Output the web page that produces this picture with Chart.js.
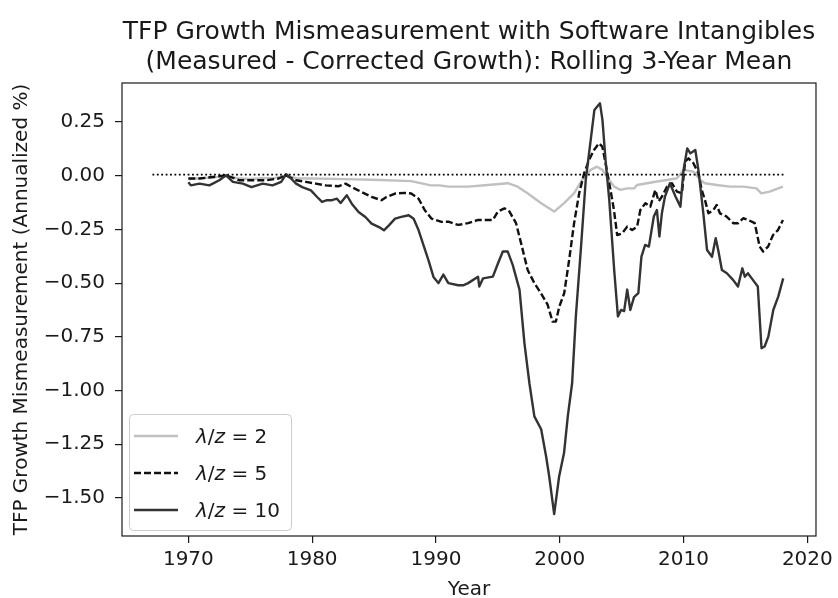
<!DOCTYPE html>
<html>
<head>
<meta charset="utf-8">
<script src="https://cdn.jsdelivr.net/npm/chart.js@4.4.0/dist/chart.umd.min.js"></script>
<style>
html, body { margin: 0; padding: 0; background: #fff; }
#wrap { width: 838px; height: 598px; }
</style>
</head>
<body>
<div id="wrap"><canvas id="chart" width="838" height="598"></canvas></div>
<script>
const xTicks = [1970, 1980, 1990, 2000, 2010, 2020];
const yTicks = [0.25, 0, -0.25, -0.5, -0.75, -1, -1.25, -1.5];
const legendLabels = ['2', '5', '10'];

// lambda/z = 2 (light gray)
const yearsLow = [1970.0, 1971.0, 1972.0, 1973.0, 1974.0, 1975.0, 1976.0, 1977.0, 1977.9, 1978.7,
  1980.0, 1982.7, 1985.5, 1988.0, 1989.6, 1990.3, 1991.0, 1992.6, 1994.2, 1995.8,
  1996.6, 1997.4, 1998.5, 1999.55, 2000.35, 2001.15, 2001.8, 2002.5, 2003.0, 2003.45,
  2004.0, 2004.4, 2004.9, 2005.45, 2006.0, 2006.25, 2007.05, 2007.86, 2008.66, 2009.47,
  2010.0, 2010.8, 2011.35, 2011.73, 2012.68, 2013.75, 2014.82, 2015.89, 2016.29, 2016.96, 2018.03];
const valsLow = [-0.015, -0.012, -0.008, -0.002, -0.012, -0.015, -0.012, -0.010, 0.000, -0.012,
  -0.013, -0.016, -0.020, -0.025, -0.045, -0.045, -0.051, -0.051, -0.043, -0.035,
  -0.051, -0.082, -0.128, -0.167, -0.128, -0.082, -0.020, 0.027, 0.042, 0.027,
  -0.020, -0.051, -0.066, -0.059, -0.059, -0.043, -0.035, -0.027, -0.020, -0.012,
  0.027, 0.019, -0.020, -0.035, -0.043, -0.051, -0.051, -0.059, -0.082, -0.074, -0.051];

// lambda/z = 5 (dashed)
const yearsMid = [1970.0, 1970.9, 1972.0, 1973.05, 1974.1, 1975.2, 1976.3, 1977.3, 1977.87, 1978.7,
  1979.5, 1980.3, 1981.1, 1982.15, 1982.7, 1983.2, 1984.0, 1984.8, 1985.6, 1986.0,
  1986.7, 1987.5, 1988.0, 1988.6, 1989.1, 1989.65, 1990.45, 1991.0, 1991.8, 1992.6,
  1993.4, 1994.2, 1994.6, 1995.0, 1995.54, 1995.94, 1996.47, 1996.88, 1997.41, 1997.95,
  1998.48, 1999.02, 1999.42, 1999.69, 1999.96, 2000.36, 2000.76, 2001.16, 2001.57, 2001.97,
  2002.37, 2002.77, 2003.17, 2003.44, 2003.7, 2004.1, 2004.38, 2004.64, 2005.05, 2005.45,
  2005.85, 2006.25, 2006.51, 2006.92, 2007.32, 2007.72, 2007.99, 2008.26, 2008.66, 2009.06,
  2009.47, 2009.87, 2010.13, 2010.4, 2010.8, 2011.2, 2011.47, 2011.73, 2012.01, 2012.41,
  2012.68, 2012.94, 2013.48, 2014.02, 2014.42, 2014.82, 2015.22, 2015.75, 2016.15, 2016.43,
  2016.83, 2017.23, 2017.63, 2018.03];
const valsMid = [-0.013, -0.013, -0.006, 0.002, -0.021, -0.021, -0.021, -0.013, 0.002, -0.021,
  -0.029, -0.037, -0.045, -0.049, -0.037, -0.053, -0.076, -0.099, -0.114, -0.099,
  -0.083, -0.080, -0.083, -0.107, -0.161, -0.200, -0.215, -0.214, -0.229, -0.221,
  -0.206, -0.206, -0.206, -0.167, -0.152, -0.167, -0.221, -0.315, -0.439, -0.500,
  -0.547, -0.600, -0.679, -0.679, -0.610, -0.547, -0.392, -0.221, -0.082, 0.011,
  0.073, 0.120, 0.151, 0.135, 0.058, -0.066, -0.160, -0.276, -0.268, -0.237,
  -0.253, -0.237, -0.160, -0.128, -0.144, -0.066, -0.119, -0.097, -0.051, -0.035,
  -0.074, -0.082, 0.066, 0.081, 0.058, 0.011, -0.066, -0.113, -0.175, -0.160,
  -0.136, -0.175, -0.190, -0.221, -0.221, -0.198, -0.206, -0.221, -0.330, -0.353,
  -0.330, -0.276, -0.253, -0.206];

// lambda/z = 10 (solid dark)
const yearsHigh = [1970.0, 1970.2, 1970.9, 1971.7, 1972.5, 1973.05, 1973.6, 1974.4, 1975.1, 1976.0,
  1976.8, 1977.5, 1977.9, 1978.3, 1978.7, 1979.2, 1979.9, 1980.4, 1980.8, 1981.2,
  1981.6, 1982.0, 1982.3, 1982.8, 1983.2, 1983.75, 1984.3, 1984.8, 1985.4, 1985.8,
  1986.2, 1986.7, 1987.2, 1987.8, 1988.2, 1988.6, 1989.0, 1989.4, 1989.8, 1990.2,
  1990.6, 1991.0, 1991.8, 1992.2, 1992.6, 1993.4, 1993.5, 1993.8, 1994.6, 1995.0,
  1995.4, 1995.8, 1996.2, 1996.75, 1997.15, 1997.55, 1997.95, 1998.5, 1998.9, 1999.15,
  1999.55, 1999.95, 2000.35, 2000.65, 2001.0, 2001.3, 2001.7, 2002.1, 2002.5, 2002.8,
  2003.25, 2003.45, 2003.7, 2004.0, 2004.4, 2004.7, 2004.95, 2005.2, 2005.45, 2005.7,
  2006.0, 2006.35, 2006.6, 2006.9, 2007.2, 2007.6, 2007.85, 2008.05, 2008.25, 2008.5,
  2008.9, 2009.35, 2009.75, 2010.0, 2010.3, 2010.55, 2010.95, 2011.2, 2011.6, 2011.9,
  2012.3, 2012.6, 2012.8, 2013.1, 2013.5, 2014.0, 2014.4, 2014.75, 2014.95, 2015.2,
  2015.6, 2016.0, 2016.3, 2016.55, 2016.85, 2017.25, 2017.65, 2018.05];
const valsHigh = [-0.030, -0.045, -0.037, -0.045, -0.021, 0.002, -0.029, -0.037, -0.053, -0.037,
  -0.045, -0.029, 0.007, -0.013, -0.037, -0.053, -0.068, -0.099, -0.122, -0.114,
  -0.114, -0.107, -0.127, -0.091, -0.130, -0.169, -0.192, -0.223, -0.239, -0.254,
  -0.231, -0.200, -0.192, -0.184, -0.200, -0.254, -0.324, -0.394, -0.471, -0.500,
  -0.460, -0.500, -0.510, -0.510, -0.500, -0.470, -0.516, -0.478, -0.470, -0.410,
  -0.353, -0.353, -0.415, -0.530, -0.780, -0.966, -1.120, -1.180, -1.307, -1.400,
  -1.575, -1.400, -1.290, -1.120, -0.966, -0.656, -0.346, -0.020, 0.166, 0.306,
  0.337, 0.260, 0.073, -0.113, -0.440, -0.655, -0.625, -0.630, -0.530, -0.625,
  -0.565, -0.547, -0.377, -0.322, -0.330, -0.190, -0.160, -0.283, -0.175, -0.097,
  -0.035, -0.097, -0.144, 0.027, 0.127, 0.104, 0.120, 0.027, -0.175, -0.346,
  -0.377, -0.291, -0.346, -0.439, -0.454, -0.485, -0.516, -0.431, -0.470, -0.454,
  -0.485, -0.516, -0.803, -0.795, -0.749, -0.625, -0.563, -0.478];

// zero reference line
const zeroYears = [1967.1, 2018.2];
const zeroVals = [0.005, 0.005];

const toPoints = (xs, ys) => xs.map((x, i) => ({ x: x, y: ys[i] }));
const FONT = "'DejaVu Sans', 'Liberation Sans', sans-serif";

const datasets = [
    { label: 'l2', data: toPoints(yearsLow, valsLow), borderColor: '#c0c0c0', borderWidth: 2.4, order: 4 },
    { label: 'l5', data: toPoints(yearsMid, valsMid), borderColor: '#111111', borderWidth: 2.4, borderDash: [7, 3], order: 3 },
    { label: 'l10', data: toPoints(yearsHigh, valsHigh), borderColor: '#333333', borderWidth: 2.4, order: 2 },
    { label: 'zero', data: toPoints(zeroYears, zeroVals), borderColor: '#000000', borderWidth: 1.6, borderDash: [1.8, 2.6], order: 1 }
];
datasets.forEach(d => { d.pointRadius = 0; d.fill = false; d.tension = 0; d.showLine = true; d.borderJoinStyle = 'round'; });

const decor = {
    id: 'decor',
    afterDraw(chart) {
        const ctx = chart.ctx;
        const a = chart.chartArea;
        ctx.save();
        // frame
        ctx.strokeStyle = '#1a1a1a';
        ctx.lineWidth = 1.2;
        ctx.strokeRect(a.left, a.top, a.right - a.left, a.bottom - a.top);

        ctx.fillStyle = '#1a1a1a';
        // title
        ctx.font = '25px ' + FONT;
        ctx.textAlign = 'center';
        ctx.textBaseline = 'alphabetic';
        const cx = (a.left + a.right) / 2;
        ctx.fillText('TFP Growth Mismeasurement with Software Intangibles', cx, 39);
        ctx.fillText('(Measured - Corrected Growth): Rolling 3-Year Mean', cx, 69);

        // axis labels
        ctx.font = '20px ' + FONT;
        ctx.fillText('Year', cx, 595);
        ctx.save();
        ctx.translate(22, (a.top + a.bottom) / 2);
        ctx.rotate(-Math.PI / 2);
        ctx.textBaseline = 'middle';
        ctx.fillText('TFP Growth Mismeasurement (Annualized %)', 0, 0);
        ctx.restore();

        // legend
        ctx.beginPath();
        ctx.roundRect(129.5, 414.5, 162, 116, 4);
        ctx.fillStyle = 'rgba(255,255,255,0.8)';
        ctx.fill();
        ctx.strokeStyle = '#cccccc';
        ctx.lineWidth = 1;
        ctx.stroke();
        legendLabels.forEach((lab, i) => {
            const ds = datasets[i];
            const y = 436 + i * 37;
            ctx.beginPath();
            ctx.setLineDash(ds.borderDash || []);
            ctx.strokeStyle = ds.borderColor;
            ctx.lineWidth = ds.borderWidth;
            ctx.moveTo(134, y);
            ctx.lineTo(178, y);
            ctx.stroke();
            ctx.setLineDash([]);
            ctx.fillStyle = '#1a1a1a';
            ctx.textAlign = 'left';
            ctx.textBaseline = 'alphabetic';
            let x = 196;
            const parts = [['λ', 'italic '], ['/', ''], ['z', 'italic '], [' = ' + lab, '']];
            parts.forEach(p => {
                ctx.font = p[1] + '20px ' + FONT;
                ctx.fillText(p[0], x, y + 7);
                x += ctx.measureText(p[0]).width;
            });
        });
        ctx.restore();
    }
};

new Chart(document.getElementById('chart'), {
    type: 'line',
    data: { datasets: datasets },
    options: {
        responsive: false,
        animation: false,
        devicePixelRatio: 1,
        layout: { padding: { top: 83, right: 18, left: 0, bottom: 0 } },
        plugins: { legend: { display: false }, tooltip: { enabled: false } },
        scales: {
            x: {
                type: 'linear',
                min: 1964.64,
                max: 2020.7,
                afterBuildTicks: s => { s.ticks = xTicks.map(v => ({ value: v })); },
                afterFit: s => { s.height = 62; },
                grid: { drawOnChartArea: false, drawTicks: true, tickLength: 7, color: '#1a1a1a', lineWidth: 1.2 },
                border: { display: false },
                ticks: { font: { family: FONT, size: 20 }, color: '#1a1a1a', padding: 5, maxRotation: 0, autoSkip: false,
                    callback: v => String(v) }
            },
            y: {
                type: 'linear',
                min: -1.677,
                max: 0.4315,
                afterBuildTicks: s => { s.ticks = yTicks.map(v => ({ value: v })); },
                afterFit: s => { s.width = 122; },
                grid: { drawOnChartArea: false, drawTicks: true, tickLength: 7, color: '#1a1a1a', lineWidth: 1.2 },
                border: { display: false },
                ticks: { font: { family: FONT, size: 20 }, color: '#1a1a1a', padding: 10, autoSkip: false,
                    callback: v => (v < 0 ? '\u2212' : '') + Math.abs(v).toFixed(2) }
            }
        }
    },
    plugins: [decor]
});
</script>
</body>
</html>
